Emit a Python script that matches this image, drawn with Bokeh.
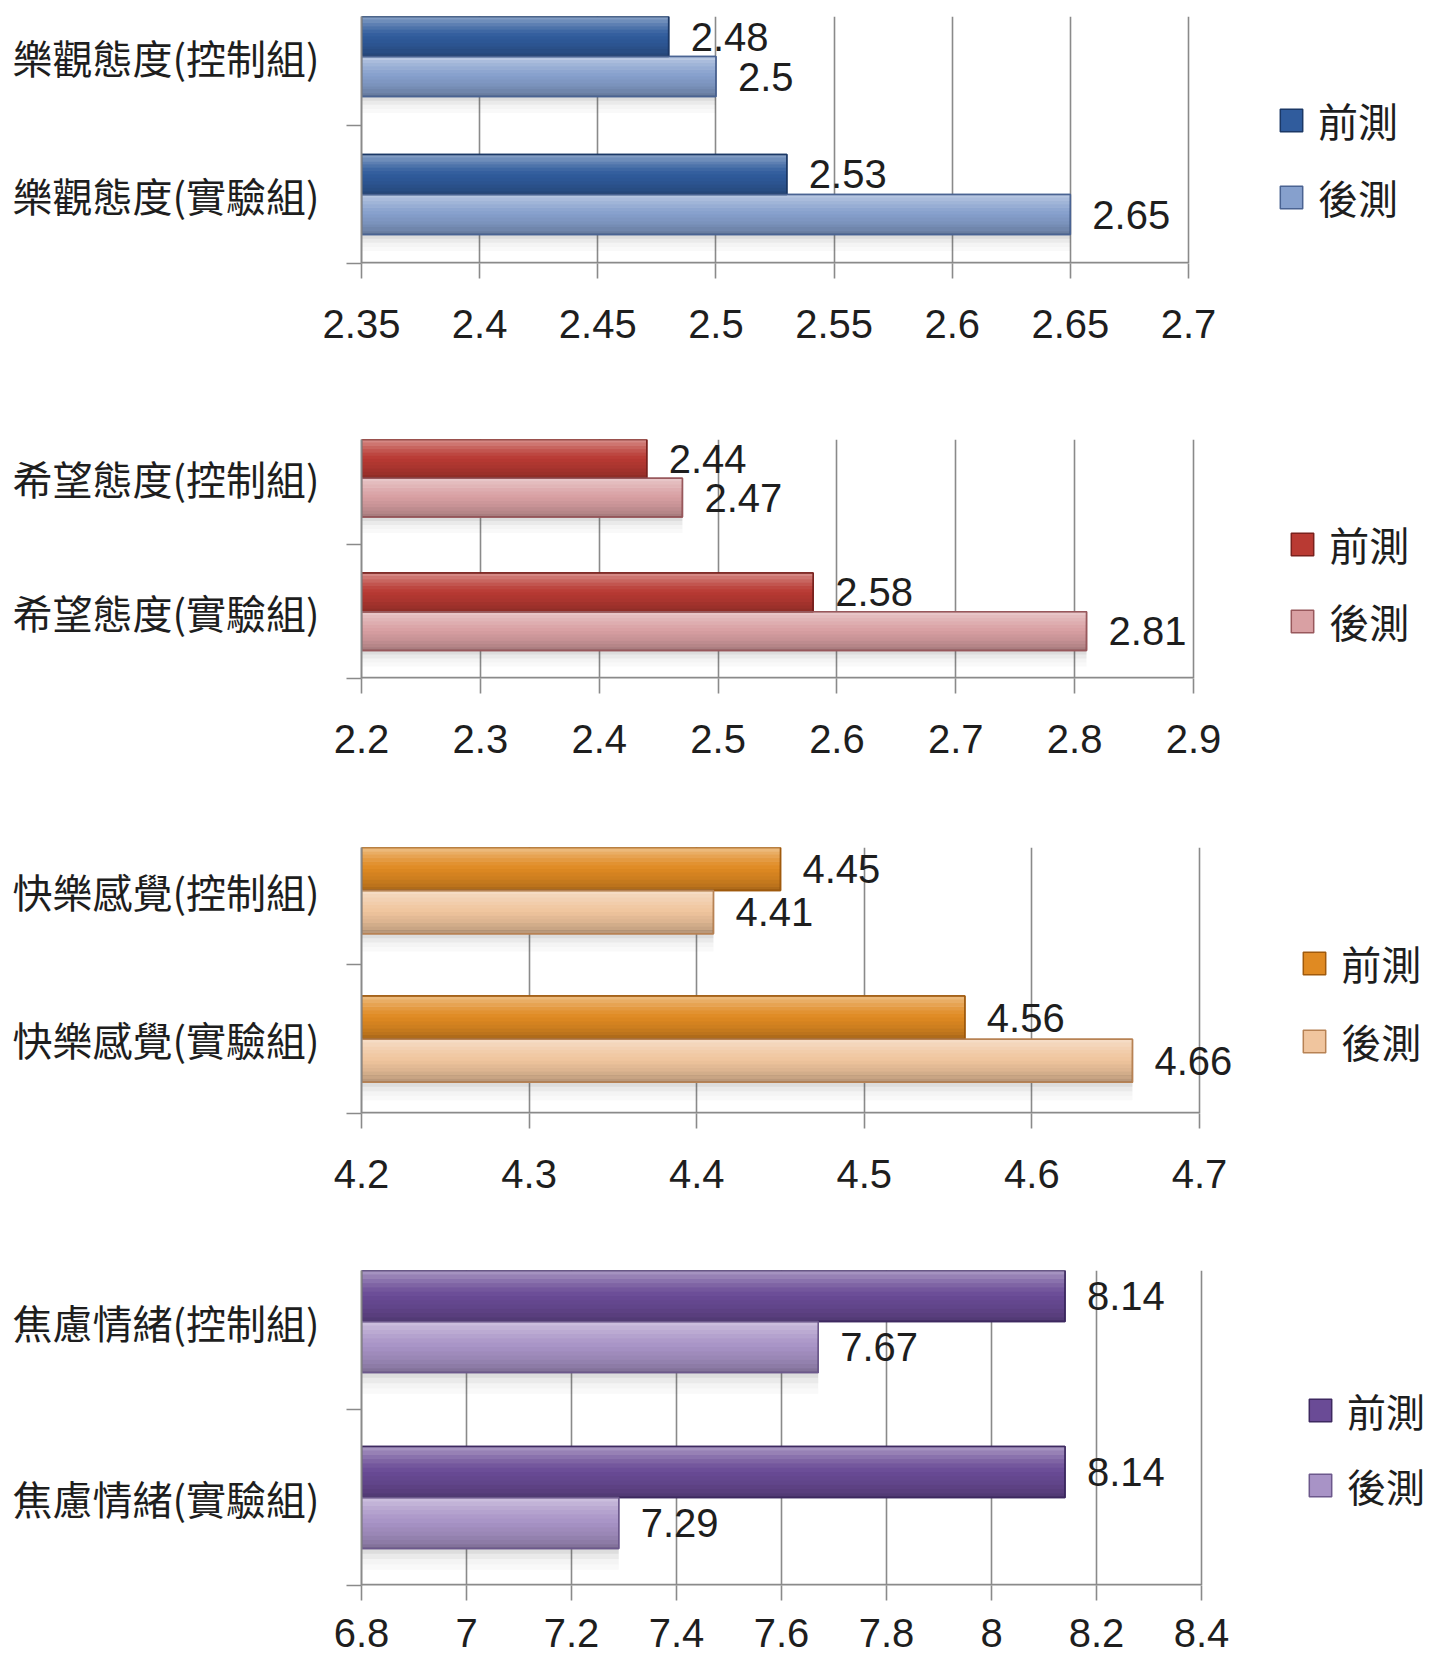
from bokeh.plotting import figure
from bokeh.layouts import column
from bokeh.models import Range1d, FixedTicker, Legend, LegendItem, ColumnDataSource
from bokeh.core.properties import value
from bokeh.embed import file_html
from bokeh.resources import INLINE

# ---------------- data ----------------
series = ["前測", "後測"]

cats_1 = ["樂觀態度(控制組)", "樂觀態度(實驗組)"]
pre_1 = [2.48, 2.53]
post_1 = [2.5, 2.65]
ticks_1 = [2.35, 2.4, 2.45, 2.5, 2.55, 2.6, 2.65, 2.7]
tick_labels_1 = ["2.35", "2.4", "2.45", "2.5", "2.55", "2.6", "2.65", "2.7"]

cats_2 = ["希望態度(控制組)", "希望態度(實驗組)"]
pre_2 = [2.44, 2.58]
post_2 = [2.47, 2.81]
ticks_2 = [2.2, 2.3, 2.4, 2.5, 2.6, 2.7, 2.8, 2.9]
tick_labels_2 = ["2.2", "2.3", "2.4", "2.5", "2.6", "2.7", "2.8", "2.9"]

cats_3 = ["快樂感覺(控制組)", "快樂感覺(實驗組)"]
pre_3 = [4.45, 4.56]
post_3 = [4.41, 4.66]
ticks_3 = [4.2, 4.3, 4.4, 4.5, 4.6, 4.7]
tick_labels_3 = ["4.2", "4.3", "4.4", "4.5", "4.6", "4.7"]

cats_4 = ["焦慮情緒(控制組)", "焦慮情緒(實驗組)"]
pre_4 = [8.14, 8.14]
post_4 = [7.67, 7.29]
ticks_4 = [6.8, 7.0, 7.2, 7.4, 7.6, 7.8, 8.0, 8.2, 8.4]
tick_labels_4 = ["6.8", "7", "7.2", "7.4", "7.6", "7.8", "8", "8.2", "8.4"]

# ---------------- styles ----------------
CJK = "Noto Sans CJK TC"
NUM = "Liberation Sans"
GRID = "#8a8a8a"
TXT = "#1e1e1e"
PAGE_W = 1426
PAGE_RIGHT = 1434
BAR_H = 0.29

colors_1 = dict(pre="#305c9d", pre_edge="#1b3866", post="#86a0cd", post_edge="#4a6392")
colors_2 = dict(pre="#b93a33", pre_edge="#7a211d", post="#d9a0a3", post_edge="#98585c")
colors_3 = dict(pre="#e08a22", pre_edge="#a05a0c", post="#f0c59e", post_edge="#b78254")
colors_4 = dict(pre="#6a4b96", pre_edge="#3d2960", post="#a893c6", post_edge="#6c588c")

# vertical shading profile of a bar, top strip first: (colour, alpha)
SHADE = [("white", 0.40), ("white", 0.30), ("white", 0.22), ("white", 0.14),
         ("white", 0.07), ("white", 0.02), ("black", 0.02), ("black", 0.05),
         ("black", 0.08), ("black", 0.12), ("black", 0.16), ("black", 0.22)]


def make_panel(cats, pre, post, ticks, tick_labels, col,
               frame_left, frame_w, frame_h, border_top, border_bottom,
               legend_loc, legend_spacing, xlab_standoff=31, legend_font="40px"):
    n = len(cats)
    yc = [n - 0.5 - i for i in range(n)]
    y_pre = [y + BAR_H / 2 for y in yc]
    y_post = [y - BAR_H / 2 for y in yc]
    x0, x1 = ticks[0], ticks[-1]

    # extend the frame to the right so that labels and legend are not clipped
    ext_w = PAGE_RIGHT - frame_left
    x_end = x0 + (x1 - x0) * ext_w / frame_w

    p = figure(
        output_backend="svg", toolbar_location=None,
        frame_width=ext_w, frame_height=frame_h,
        x_range=Range1d(x0, x_end), y_range=Range1d(0, n - 0.5 + BAR_H),
        min_border_left=frame_left - 8,
        min_border_right=max(0, PAGE_W - (frame_left - 8) - ext_w),
        min_border_top=border_top, min_border_bottom=border_bottom,
        background_fill_color="white", border_fill_color="white",
    )
    p.outline_line_color = None
    p.ygrid.grid_line_color = None
    p.xgrid.ticker = FixedTicker(ticks=ticks)
    p.xgrid.grid_line_color = GRID
    p.xgrid.grid_line_width = 1.6

    # x axis
    xa = p.xaxis[0]
    xa.ticker = FixedTicker(ticks=ticks)
    xa.major_label_overrides = {t: l for t, l in zip(ticks, tick_labels)}
    xa.axis_line_color = None
    xa.major_tick_line_color = GRID
    xa.major_tick_line_width = 1.6
    xa.major_tick_out = 15
    xa.major_tick_in = 0
    xa.minor_tick_line_color = None
    xa.major_label_standoff = xlab_standoff
    xa.major_label_text_font = NUM
    xa.major_label_text_font_size = "40px"
    xa.major_label_text_color = TXT
    # visible axis line only across the value range
    p.segment(x0=[x0], y0=[0], x1=[x1], y1=[0], line_color=GRID, line_width=3.5)

    # y axis (category labels at centres, ticks at category boundaries)
    ya = p.yaxis[0]
    ya.ticker = FixedTicker(ticks=yc, minor_ticks=[float(i) for i in range(n)])
    ya.major_label_overrides = {y: c for y, c in zip(yc, cats)}
    ya.axis_line_color = GRID
    ya.axis_line_width = 2
    ya.major_tick_line_color = None
    ya.major_tick_out = 0
    ya.major_tick_in = 0
    ya.minor_tick_line_color = GRID
    ya.minor_tick_line_width = 1.6
    ya.minor_tick_out = 15
    ya.minor_tick_in = 0
    ya.major_label_standoff = 27
    ya.major_label_text_font = CJK
    ya.major_label_text_font_size = "40px"
    ya.major_label_text_color = TXT

    src = ColumnDataSource(dict(y_pre=y_pre, y_post=y_post, pre=pre, post=post,
                                pre_lab=[str(v) for v in pre], post_lab=[str(v) for v in post]))

    # soft drop shadows
    for k, a in enumerate([0.18, 0.11, 0.06, 0.03]):
        p.hbar(y=[y - BAR_H / 2 - 0.015 - 0.03 * k for y in y_post], left=x0, right=post,
               height=0.03, fill_color="#404040", fill_alpha=a, line_color=None)

    r_pre = p.hbar(y="y_pre", left=x0, right="pre", height=BAR_H, source=src,
                   fill_color=col["pre"], line_color=col["pre_edge"], line_width=1.5)
    r_post = p.hbar(y="y_post", left=x0, right="post", height=BAR_H, source=src,
                    fill_color=col["post"], line_color=col["post_edge"], line_width=1.5)

    # gradient shading in thin strips
    m = len(SHADE)
    sh = BAR_H / m
    for ys, vals in ((y_pre, pre), (y_post, post)):
        for j, (c, a) in enumerate(SHADE):
            p.hbar(y=[y + BAR_H / 2 - sh * (j + 0.5) for y in ys], left=x0, right=vals,
                   height=sh * 1.02, fill_color=c, fill_alpha=a, line_color=None)
    # outlines on top
    p.hbar(y="y_pre", left=x0, right="pre", height=BAR_H, source=src,
           fill_alpha=0, line_color=col["pre_edge"], line_width=1.5)
    p.hbar(y="y_post", left=x0, right="post", height=BAR_H, source=src,
           fill_alpha=0, line_color=col["post_edge"], line_width=1.5)

    # value labels
    for ycol, xcol, lcol in (("y_pre", "pre", "pre_lab"), ("y_post", "post", "post_lab")):
        p.text(x=xcol, y=ycol, text=lcol, source=src, x_offset=22,
               text_font=value(NUM), text_font_size="40px", text_color=TXT,
               text_baseline="middle", text_align="left")

    legend = Legend(
        items=[LegendItem(label=series[0], renderers=[r_pre]),
               LegendItem(label=series[1], renderers=[r_post])],
        location=legend_loc, padding=0, margin=0, spacing=legend_spacing,
        glyph_width=28, glyph_height=28, label_standoff=13, label_height=46,
        label_text_font=CJK, label_text_font_size=legend_font, label_text_color=TXT,
        border_line_color=None, background_fill_alpha=0,
    )
    p.add_layout(legend, "center")
    return p


p1 = make_panel(cats_1, pre_1, post_1, ticks_1, tick_labels_1, colors_1,
                frame_left=360, frame_w=827, frame_h=247, border_top=16, border_bottom=168,
                legend_loc=(925, 37), legend_spacing=19)
p2 = make_panel(cats_2, pre_2, post_2, ticks_2, tick_labels_2, colors_2,
                frame_left=364, frame_w=832, frame_h=239, border_top=8, border_bottom=160,
                legend_loc=(935, 28), legend_spacing=19)
p3 = make_panel(cats_3, pre_3, post_3, ticks_3, tick_labels_3, colors_3,
                frame_left=367, frame_w=838, frame_h=266, border_top=9, border_bottom=148,
                legend_loc=(946, 43), legend_spacing=20)
p4 = make_panel(cats_4, pre_4, post_4, ticks_4, tick_labels_4, colors_4,
                frame_left=369, frame_w=840, frame_h=315, border_top=9, border_bottom=70,
                legend_loc=(945, 72), legend_spacing=19, xlab_standoff=18, legend_font="39px")

layout = column(p1, p2, p3, p4, spacing=0)
open("out.html", "w").write(file_html(layout, INLINE))
